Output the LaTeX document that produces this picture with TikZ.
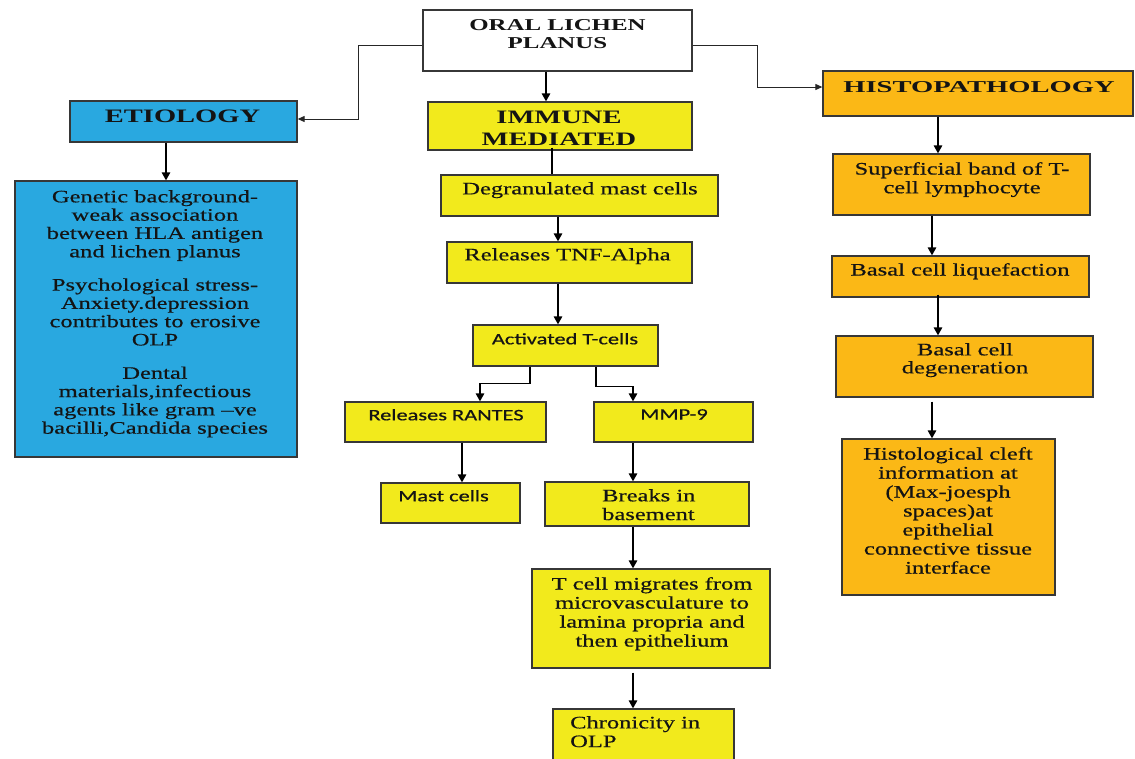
\documentclass[tikz,border=0pt]{standalone}
\usepackage{fontspec}
\setmainfont{Liberation Serif}
\newfontfamily\srf[FakeStretch=1.4,FakeBold=0.5]{Liberation Serif}
\newfontfamily\hdf[FakeStretch=1.5]{Liberation Serif}
\newfontfamily\hdwf[FakeStretch=1.72]{Liberation Serif}
\newfontfamily\snf[FakeStretch=1.4,FakeBold=0.6]{Carlito}
\usetikzlibrary{arrows.meta}
\newcommand\myfs[2]{\fontsize{#1}{#2}\selectfont}
\definecolor{bluc}{RGB}{41,168,224}
\definecolor{yelc}{RGB}{242,234,28}
\definecolor{orgc}{RGB}{251,184,22}
\definecolor{bordc}{RGB}{55,55,55}
\definecolor{txc}{RGB}{20,20,20}
\tikzset{
  boxst/.style={draw=bordc, line width=1.3pt, inner sep=0pt, rectangle},
  blu/.style={fill=bluc}, yel/.style={fill=yelc}, org/.style={fill=orgc}, wht/.style={fill=white},
  txt/.style={inner sep=0pt, anchor=north, align=center, text=txc, font=\srf\myfs{17.5}{18.7}},
  txtl/.style={txt, anchor=north west, align=left},
  hdr/.style={txt, font=\hdf\bfseries\myfs{16.6}{18}},
  sans/.style={txt, font=\snf\myfs{16}{18}},
  arr/.style={draw=black, line width=1.4pt, -{Triangle[length=8pt,width=8.5pt]}},
  arrthin/.style={draw=black!85, line width=1pt, -{Triangle[length=7pt,width=6pt]}},
  plain/.style={draw=black, line width=1.4pt}
}
\newcommand\bx[6]{\node[boxst,#6,minimum width={(#4)-(#2)},minimum height={(#5)-(#3)}] (#1) at ({((#2)+(#4))/2},{-((#3)+(#5))/2}) {};}
\begin{document}
\begin{tikzpicture}[x=1pt,y=1pt]
\path[use as bounding box] (0,0) rectangle (1135,-758);
\clip (0,0) rectangle (1135,-758);
\fill[white] (0,0) rectangle (1135,-758);
% boxes
\bx{olp}{423}{10}{692}{71}{wht}
\bx{etio}{70}{101}{297}{142}{blu}
\bx{immune}{428}{102}{692}{150}{yel}
\bx{histo}{823}{71}{1133}{116}{org}
\bx{etioc}{15}{181}{297}{457}{blu}
\bx{deg}{441}{175}{718}{216}{yel}
\bx{tnf}{447}{242}{692}{283}{yel}
\bx{act}{473}{325}{658}{366}{yel}
\bx{rantes}{345}{402}{546}{442}{yel}
\bx{mmp}{594}{402}{753}{442}{yel}
\bx{mast}{381}{483}{520}{523}{yel}
\bx{breaks}{545}{482}{749}{526}{yel}
\bx{tcell}{532}{569}{770}{668}{yel}
\bx{chron}{553}{709}{734}{790}{yel}
\bx{sup}{833}{154}{1090}{215}{org}
\bx{liq}{832}{256}{1089}{297}{org}
\bx{degen}{836}{336}{1093}{397}{org}
\bx{hist}{842}{439}{1055}{595}{org}
% texts
\node[hdr] (olpt) at (557.5,-19) {ORAL LICHEN\\PLANUS};
\node[hdr, font=\hdf\bfseries\myfs{19}{22}] (etiot) at (182.5,-110) {ETIOLOGY};
\node[hdr, font=\hdf\bfseries\myfs{19}{22}] (immunet) at (559,-111) {IMMUNE\\MEDIATED};
\node[hdr, font=\hdwf\bfseries\myfs{16.6}{18}] (histot) at (979,-81) {HISTOPATHOLOGY};
\node[txt, font=\srf\myfs{17.5}{18.3}] (etioct) at (155,-190) {Genetic background-\\weak association\\between HLA antigen\\and lichen planus\\[15pt]Psychological stress-\\Anxiety.depression\\contributes to erosive\\OLP\\[15pt]Dental\\materials,infectious\\agents like gram –ve\\bacilli,Candida species};
\node[txt] (degt) at (580,-182) {Degranulated mast cells};
\node[txt] (tnft) at (567.5,-248) {Releases TNF-Alpha};
\node[sans] (actt) at (565,-333) {Activated T-cells};
\node[sans] (rantest) at (446,-409) {Releases RANTES};
\node[sans] (mmpt) at (674,-409) {MMP-9};
\node[sans, anchor=north west] (mastt) at (398,-490) {Mast cells};
\node[txtl] (breakst) at (602,-489) {Breaks in\\basement};
\node[txt, font=\srf\myfs{17.5}{19}] (tcellt) at (652,-577) {T cell migrates from\\microvasculature to\\lamina propria and\\then epithelium};
\node[txtl] (chront) at (570,-716) {Chronicity in\\OLP};
\node[txt] (supt) at (962,-162) {Superficial band of T-\\cell lymphocyte};
\node[txt] (liqt) at (960,-263) {Basal cell liquefaction};
\node[txt, font=\srf\myfs{17.5}{18}] (degent) at (965,-343) {Basal cell\\degeneration};
\node[txt, font=\srf\myfs{17.5}{19}] (histt) at (948,-447) {Histological cleft\\information at\\(Max-joesph\\spaces)at\\epithelial\\connective tissue\\interface};
% connectors
\draw[arrthin] ([yshift=-4.5pt]olp.west) -- ++(-64,0) |- ([yshift=2.5pt]etio.east);
\draw[arrthin] ([yshift=-4.5pt]olp.east) -- ++(65,0) |- ([yshift=6.5pt]histo.west);
\draw[arr] ([xshift=-11.5pt]olp.south) -- ([xshift=-11.5pt]olp.south |- immune.north);
\draw[plain] ([xshift=-8pt,yshift=3pt]immune.south) -- ([xshift=-8pt]immune.south |- deg.north);
\draw[arr] ([xshift=-17.5pt]etio.south) -- ([xshift=-17.5pt]etio.south |- etioc.north);
\draw[arr] ([xshift=-21.5pt]deg.south) -- ([xshift=-21.5pt]deg.south |- tnf.north);
\draw[arr] ([xshift=-11.5pt]tnf.south) -- ([xshift=-11.5pt]tnf.south |- act.north);
\draw[arr] ([xshift=-35.5pt]act.south) -- ++(0,-17) -| ([xshift=34.5pt]rantes.north);
\draw[arr] ([xshift=30.5pt]act.south) -- ++(0,-20) -| ([xshift=-40.5pt]mmp.north);
\draw[arr] ([xshift=16.5pt]rantes.south) -- ([xshift=16.5pt]rantes.south |- mast.north);
\draw[arr] ([xshift=-40.5pt]mmp.south) -- ([xshift=-40.5pt]mmp.south |- breaks.north);
\draw[arr] ([xshift=-14pt]breaks.south) -- ([xshift=-14pt]breaks.south |- tcell.north);
\draw[arr] ([xshift=-18pt,yshift=-4pt]tcell.south) -- ([xshift=-18pt]tcell.south |- chron.north);
\draw[arr] ([xshift=-40pt]histo.south) -- ([xshift=-40pt]histo.south |- sup.north);
\draw[arr] ([xshift=-29.5pt]sup.south) -- ([xshift=-29.5pt]sup.south |- liq.north);
\draw[arr] ([xshift=-22.5pt,yshift=3pt]liq.south) -- ([xshift=-22.5pt]liq.south |- degen.north);
\draw[arr] ([xshift=-32.5pt,yshift=-4pt]degen.south) -- ([xshift=-32.5pt]degen.south |- hist.north);
\end{tikzpicture}
\end{document}
